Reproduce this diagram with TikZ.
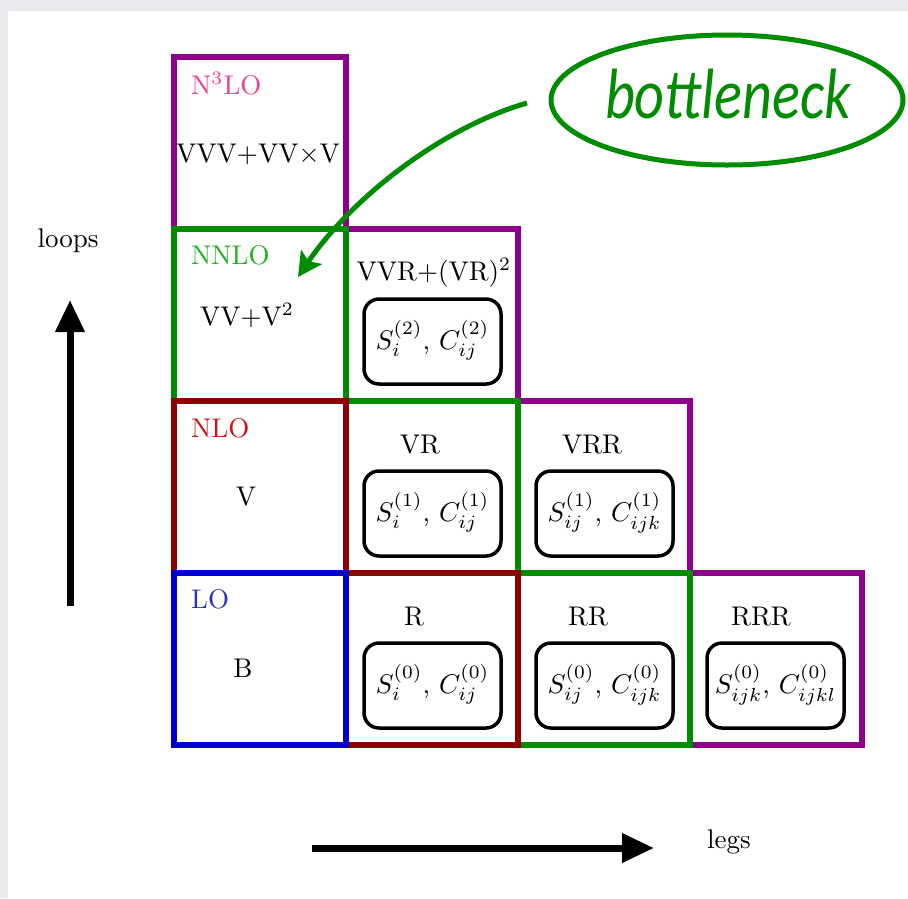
\documentclass[tikz,border=0pt]{standalone}
\usepackage{fontspec}
\newfontfamily\handfont{Carlito}
\usetikzlibrary{arrows.meta,shapes.geometric}

\definecolor{framegray}{RGB}{232,234,238}
\definecolor{ordpurple}{RGB}{140,0,140}
\definecolor{ordgreen}{RGB}{0,140,0}
\definecolor{ordred}{RGB}{140,0,0}
\definecolor{ordblue}{RGB}{0,0,205}
\definecolor{nthreecol}{RGB}{235,64,150}
\definecolor{nnlocol}{RGB}{30,180,30}
\definecolor{nlocol}{RGB}{205,20,20}
\definecolor{locol}{RGB}{50,50,185}

% all text is set at 10pt and enlarged to the drawing scale
\newcommand\sz[1]{\scalebox{2.7}{#1}}

\begin{document}
\begin{tikzpicture}[x=1pt,y=-1pt,
  cell/.style={minimum width=172pt,minimum height=172pt,line width=6pt,
               inner sep=0pt,outer sep=0pt},
  ctbox/.style={draw=black,line width=3.5pt,rounded corners=15pt,
                minimum width=137pt,minimum height=85pt,inner sep=0pt},
  txt/.style={inner sep=0pt,anchor=base},
  lbl/.style={inner sep=0pt,anchor=base west},
  axis/.style={line width=7pt,-{Triangle[length=32pt,width=28pt]}}]

% page with its grey frame
\fill[framegray] (0,0) rectangle (908,898);
\fill[white] (8,11) rectangle (908,898);
\useasboundingbox (0,0) rectangle (908,898);

% N3LO cells
\node[cell,draw=ordpurple] (c03) at (259.5,143) {};
\node[cell,draw=ordpurple] (c12) at (431.5,315) {};
\node[cell,draw=ordpurple] (c21) at (603.5,487) {};
\node[cell,draw=ordpurple] (c30) at (775.5,659) {};
% NNLO cells
\node[cell,draw=ordgreen] (c02) at (259.5,315) {};
\node[cell,draw=ordgreen] (c11) at (431.5,487) {};
\node[cell,draw=ordgreen] (c20) at (603.5,659) {};
% NLO cells
\node[cell,draw=ordred] (c01) at (259.5,487) {};
\node[cell,draw=ordred] (c10) at (431.5,659) {};
% LO cell
\node[cell,draw=ordblue] (c00) at (259.5,659) {};

% order labels
\node[lbl,text=nthreecol] (ln3) at (191,94) {\sz{N$^3$LO}};
\node[lbl,text=nnlocol] (lnn) at (191,264) {\sz{NNLO}};
\node[lbl,text=nlocol] (lnl) at (191,437) {\sz{NLO}};
\node[lbl,text=locol] (llo) at (191,608) {\sz{LO}};

% virtual corrections
\node[txt] (t03) at (258,162) {\sz{VVV+VV$\times$V}};
\node[txt] (t02) at (247,325) {\sz{VV+V$^2$}};
\node[txt] (t01) at (246,505) {\sz{V}};
\node[txt] (t00) at (243,677) {\sz{B}};

% real emissions
\node[txt] (t12) at (434,280) {\sz{VVR+(VR)$^2$}};
\node[txt] (t11) at (420,453) {\sz{VR}};
\node[txt] (t10) at (414,625) {\sz{R}};
\node[txt] (t21) at (592,453) {\sz{VRR}};
\node[txt] (t20) at (588,625) {\sz{RR}};
\node[txt] (t30) at (761,625) {\sz{RRR}};

% soft and collinear counterterms
\node[ctbox] (b12) at (432.5,341.5) {};
\node[ctbox] (b11) at (432.5,513.5) {};
\node[ctbox] (b21) at (604.5,513.5) {};
\node[ctbox] (b10) at (432.5,685.5) {};
\node[ctbox] (b20) at (604.5,685.5) {};
\node[ctbox] (b30) at (775.5,685.5) {};
\node[txt] (s12) at (432.5,349) {\sz{$S_i^{(2)}$, $C_{ij}^{(2)}$}};
\node[txt] (s11) at (432.5,521) {\sz{$S_i^{(1)}$, $C_{ij}^{(1)}$}};
\node[txt] (s21) at (604.5,521) {\sz{$S_{ij}^{(1)}$, $C_{ijk}^{(1)}$}};
\node[txt] (s10) at (432.5,693) {\sz{$S_i^{(0)}$, $C_{ij}^{(0)}$}};
\node[txt] (s20) at (604.5,693) {\sz{$S_{ij}^{(0)}$, $C_{ijk}^{(0)}$}};
\node[txt] (s30) at (775.5,693) {\sz{$S_{ijk}^{(0)}$, $C_{ijkl}^{(0)}$}};

% bottleneck callout
\node[ellipse,draw=ordgreen,line width=5pt,minimum width=352pt,
      minimum height=130pt,inner sep=0pt] (bn) at (727,100) {};
\node[txt,text=ordgreen] (bntext) at (728,118)
  {\scalebox{1.02}[1.25]{\fontsize{57}{68}\selectfont\handfont\itshape bottleneck}};
\coordinate (bnstart) at (527,103);
\coordinate (bnend) at (298,277);
\draw[ordgreen,line width=5pt,-{Stealth[length=24pt,width=25pt,inset=5pt]}]
  (bnstart) .. controls (440,128) and (350,200) .. (bnend);

% axes
\coordinate (ybot) at (70,606);
\coordinate (ytop) at (70,300);
\draw[axis] (ybot) -- (ytop);
\node[txt] (loops) at (68,247) {\sz{loops}};
\coordinate (xleft) at (312,848);
\coordinate (xright) at (654,848);
\draw[axis] (xleft) -- (xright);
\node[txt] (legs) at (729,848) {\sz{legs}};
\end{tikzpicture}
\end{document}
